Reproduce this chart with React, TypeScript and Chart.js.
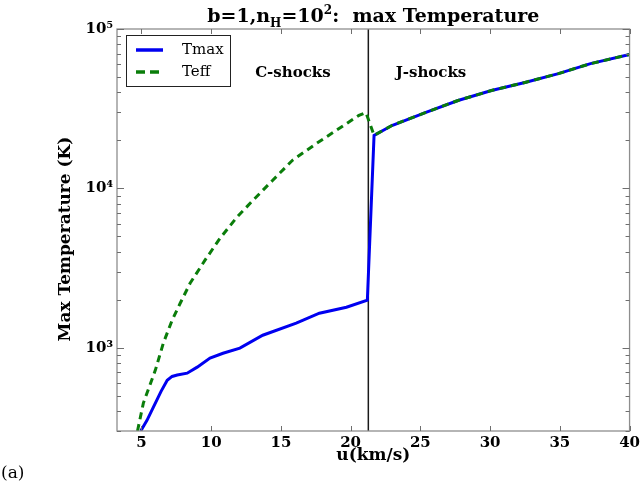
import React, { useEffect, useRef } from 'react';
import { Chart, registerables } from 'chart.js';

Chart.register(...registerables);

// ---- data ----
const uTmax = [4.95, 5.4, 5.86, 6.4, 6.85, 7.2, 7.57, 8.28, 9.0, 9.92, 10.85, 12.06, 13.7, 16.1, 17.76, 19.7, 21.2, 21.68, 22.96, 25.4, 27.7, 30.1, 32.5, 34.9, 37.2, 40];
const tmax = [300, 350, 424, 530, 625, 660, 673, 692, 755, 860, 923, 993, 1197, 1425, 1645, 1794, 1985, 21500, 24800, 30000, 35600, 41100, 46200, 52500, 60600, 69200];
const uTeff = [4.72, 5.14, 6.0, 6.57, 7.2, 7.78, 8.49, 9.56, 10.63, 11.84, 13.0, 14.4, 15.83, 17.54, 18.97, 20.6, 21.1, 21.68, 22.96, 25.4, 27.7, 30.1, 32.5, 34.9, 37.2, 40];
const teff = [300, 449, 723, 1067, 1487, 1900, 2536, 3540, 4855, 6580, 8410, 11200, 15000, 19100, 23100, 28700, 29900, 21500, 24800, 30000, 35600, 41100, 46200, 52500, 60600, 69200];

const shockBoundary = 21.27;
const xTicks = [5, 10, 15, 20, 25, 30, 35, 40];
const xMin = 3.25;
const xMax = 40;
const yMin = 300;
const yMax = 1e5;
const seriesLabels = ['Tmax', 'Teff'];
const regionLabels = [
  { text: 'C-shocks', u: 15.86, T: 50000 },
  { text: 'J-shocks', u: 25.76, T: 50000 },
];

const SERIF = '"DejaVu Serif", serif';
const BLUE = '#0000f0';
const GREEN = '#0a7d0a';

const SUP: Record<string, string> = { '0': '⁰', '1': '¹', '2': '²', '3': '³', '4': '⁴', '5': '⁵', '6': '⁶', '7': '⁷', '8': '⁸', '9': '⁹' };

function isPow10(v: number) {
  const l = Math.log10(v);
  return Math.abs(l - Math.round(l)) < 1e-9;
}

function buildYTicks() {
  const out: number[] = [];
  for (let e = 2; e <= 5; e++) {
    for (let m = 1; m <= 9; m++) {
      const v = m * Math.pow(10, e);
      if (v >= yMin - 1e-6 && v <= yMax + 1e-6) out.push(v);
    }
  }
  return out;
}

const overlayPlugin = {
  id: 'overlay',
  afterDraw(chart: any) {
    const { ctx, chartArea: a, scales } = chart;
    const xs = scales.x;
    const ys = scales.y;
    ctx.save();

    // frame
    ctx.strokeStyle = '#8e8e8e';
    ctx.lineWidth = 1.3;
    ctx.strokeRect(a.left, a.top, a.right - a.left, a.bottom - a.top);

    // inward ticks
    ctx.strokeStyle = '#6e6e6e';
    ctx.lineWidth = 1;
    ctx.beginPath();
    for (const v of xTicks) {
      const p = Math.round(xs.getPixelForValue(v)) + 0.5;
      ctx.moveTo(p, a.bottom);
      ctx.lineTo(p, a.bottom - 5);
      ctx.moveTo(p, a.top);
      ctx.lineTo(p, a.top + 5);
    }
    for (const t of ys.ticks) {
      const p = Math.round(ys.getPixelForValue(t.value)) + 0.5;
      const len = isPow10(t.value) ? 7 : 4;
      ctx.moveTo(a.left, p);
      ctx.lineTo(a.left + len, p);
      ctx.moveTo(a.right, p);
      ctx.lineTo(a.right - len, p);
    }
    ctx.stroke();

    ctx.fillStyle = '#000';

    // title with sub/superscript
    const cx = (a.left + a.right) / 2;
    const parts = [
      { t: 'b=1,n', s: 19, dy: 0 },
      { t: 'H', s: 12, dy: 5 },
      { t: '=10', s: 19, dy: 0 },
      { t: '2', s: 12, dy: -8 },
      { t: ':  max Temperature', s: 19, dy: 0 },
    ];
    let total = 0;
    const widths: number[] = [];
    for (const p of parts) {
      ctx.font = `bold ${p.s}px ${SERIF}`;
      const w = ctx.measureText(p.t).width;
      widths.push(w);
      total += w;
    }
    let x = cx - total / 2;
    ctx.textBaseline = 'alphabetic';
    ctx.textAlign = 'left';
    parts.forEach((p, i) => {
      ctx.font = `bold ${p.s}px ${SERIF}`;
      ctx.fillText(p.t, x, 22 + p.dy);
      x += widths[i];
    });

    // y axis title
    ctx.save();
    ctx.translate(66, 239);
    ctx.rotate(-Math.PI / 2);
    ctx.font = `bold 17px ${SERIF}`;
    ctx.textAlign = 'center';
    ctx.textBaseline = 'middle';
    ctx.fillText('Max Temperature (K)', 0, 0);
    ctx.restore();

    // x axis title
    ctx.font = `bold 17px ${SERIF}`;
    ctx.textAlign = 'center';
    ctx.textBaseline = 'alphabetic';
    ctx.fillText('u(km/s)', cx, 460);

    // panel label
    ctx.font = `17px ${SERIF}`;
    ctx.textAlign = 'left';
    ctx.fillText('(a)', 1, 478);

    // region labels
    ctx.font = `bold 15px ${SERIF}`;
    ctx.textAlign = 'center';
    for (const r of regionLabels) {
      ctx.fillText(r.text, xs.getPixelForValue(r.u), ys.getPixelForValue(r.T) + 0.5);
    }

    // legend box
    const lx = a.left + 9;
    const ly = a.top + 6;
    const lw = 104;
    const lh = 51;
    ctx.fillStyle = '#fff';
    ctx.fillRect(lx, ly, lw, lh);
    ctx.strokeStyle = '#222';
    ctx.lineWidth = 1;
    ctx.strokeRect(lx + 0.5, ly + 0.5, lw, lh);
    const rows = [
      { label: seriesLabels[0], color: BLUE, dash: [] as number[] },
      { label: seriesLabels[1], color: GREEN, dash: [9, 5] },
    ];
    rows.forEach((r, i) => {
      const yy = ly + 15 + i * 22;
      ctx.strokeStyle = r.color;
      ctx.lineWidth = 3.5;
      ctx.setLineDash(r.dash);
      ctx.beginPath();
      ctx.moveTo(lx + 10, yy);
      ctx.lineTo(lx + 37, yy);
      ctx.stroke();
      ctx.setLineDash([]);
      ctx.fillStyle = '#000';
      ctx.font = `15px ${SERIF}`;
      ctx.textAlign = 'left';
      ctx.textBaseline = 'middle';
      ctx.fillText(r.label, lx + 56, yy);
    });

    ctx.restore();
  },
};

export default function App() {
  const ref = useRef<HTMLCanvasElement | null>(null);

  useEffect(() => {
    if (!ref.current) return;
    const chart = new Chart(ref.current, {
      type: 'scatter',
      data: {
        datasets: [
          {
            label: seriesLabels[1],
            data: uTeff.map((u, i) => ({ x: u, y: teff[i] })),
            borderColor: GREEN,
            backgroundColor: GREEN,
            borderWidth: 3,
            borderDash: [7, 5],
            showLine: true,
            pointRadius: 0,
            tension: 0,
            order: 0,
          },
          {
            label: seriesLabels[0],
            data: uTmax.map((u, i) => ({ x: u, y: tmax[i] })),
            borderColor: BLUE,
            backgroundColor: BLUE,
            borderWidth: 3,
            showLine: true,
            pointRadius: 0,
            tension: 0,
            order: 1,
          },
          {
            label: 'boundary',
            data: [
              { x: shockBoundary, y: yMin },
              { x: shockBoundary, y: yMax },
            ],
            borderColor: '#1a1a1a',
            borderWidth: 1.5,
            showLine: true,
            pointRadius: 0,
            order: 2,
          },
        ],
      },
      options: {
        animation: false,
        responsive: false,
        devicePixelRatio: 1,
        layout: { padding: { left: 0, top: 29, right: 10, bottom: 0 } },
        plugins: {
          legend: { display: false },
          tooltip: { enabled: false },
          title: { display: false },
        },
        scales: {
          x: {
            type: 'linear',
            min: xMin,
            max: xMax,
            afterBuildTicks: (s: any) => {
              s.ticks = xTicks.map((v) => ({ value: v }));
            },
            afterFit: (s: any) => {
              s.height = 55;
            },
            grid: { display: false, drawTicks: false },
            border: { display: false },
            ticks: {
              autoSkip: false,
              maxRotation: 0,
              padding: 3,
              color: '#000',
              font: { family: SERIF, weight: 'bold', size: 15 },
              callback: (v: any) => String(v),
            },
          },
          y: {
            type: 'logarithmic',
            min: yMin,
            max: yMax,
            afterBuildTicks: (s: any) => {
              s.ticks = buildYTicks().map((v) => ({ value: v, major: isPow10(v) }));
            },
            afterFit: (s: any) => {
              s.width = 117;
            },
            grid: { display: false, drawTicks: false },
            border: { display: false },
            ticks: {
              autoSkip: false,
              padding: 4,
              color: '#000',
              font: { family: SERIF, weight: 'bold', size: 15 },
              callback: (v: any) => {
                const n = Number(v);
                if (!isPow10(n)) return '';
                const e = String(Math.round(Math.log10(n)));
                return '10' + e.split('').map((c) => SUP[c]).join('');
              },
            },
          },
        },
      },
      plugins: [overlayPlugin],
    } as any);
    return () => chart.destroy();
  }, []);

  return (
    <div style={{ position: 'absolute', left: 0, top: 0, width: 643, height: 486, background: '#fff' }}>
      <canvas ref={ref} width={643} height={486} style={{ display: 'block' }} />
    </div>
  );
}
